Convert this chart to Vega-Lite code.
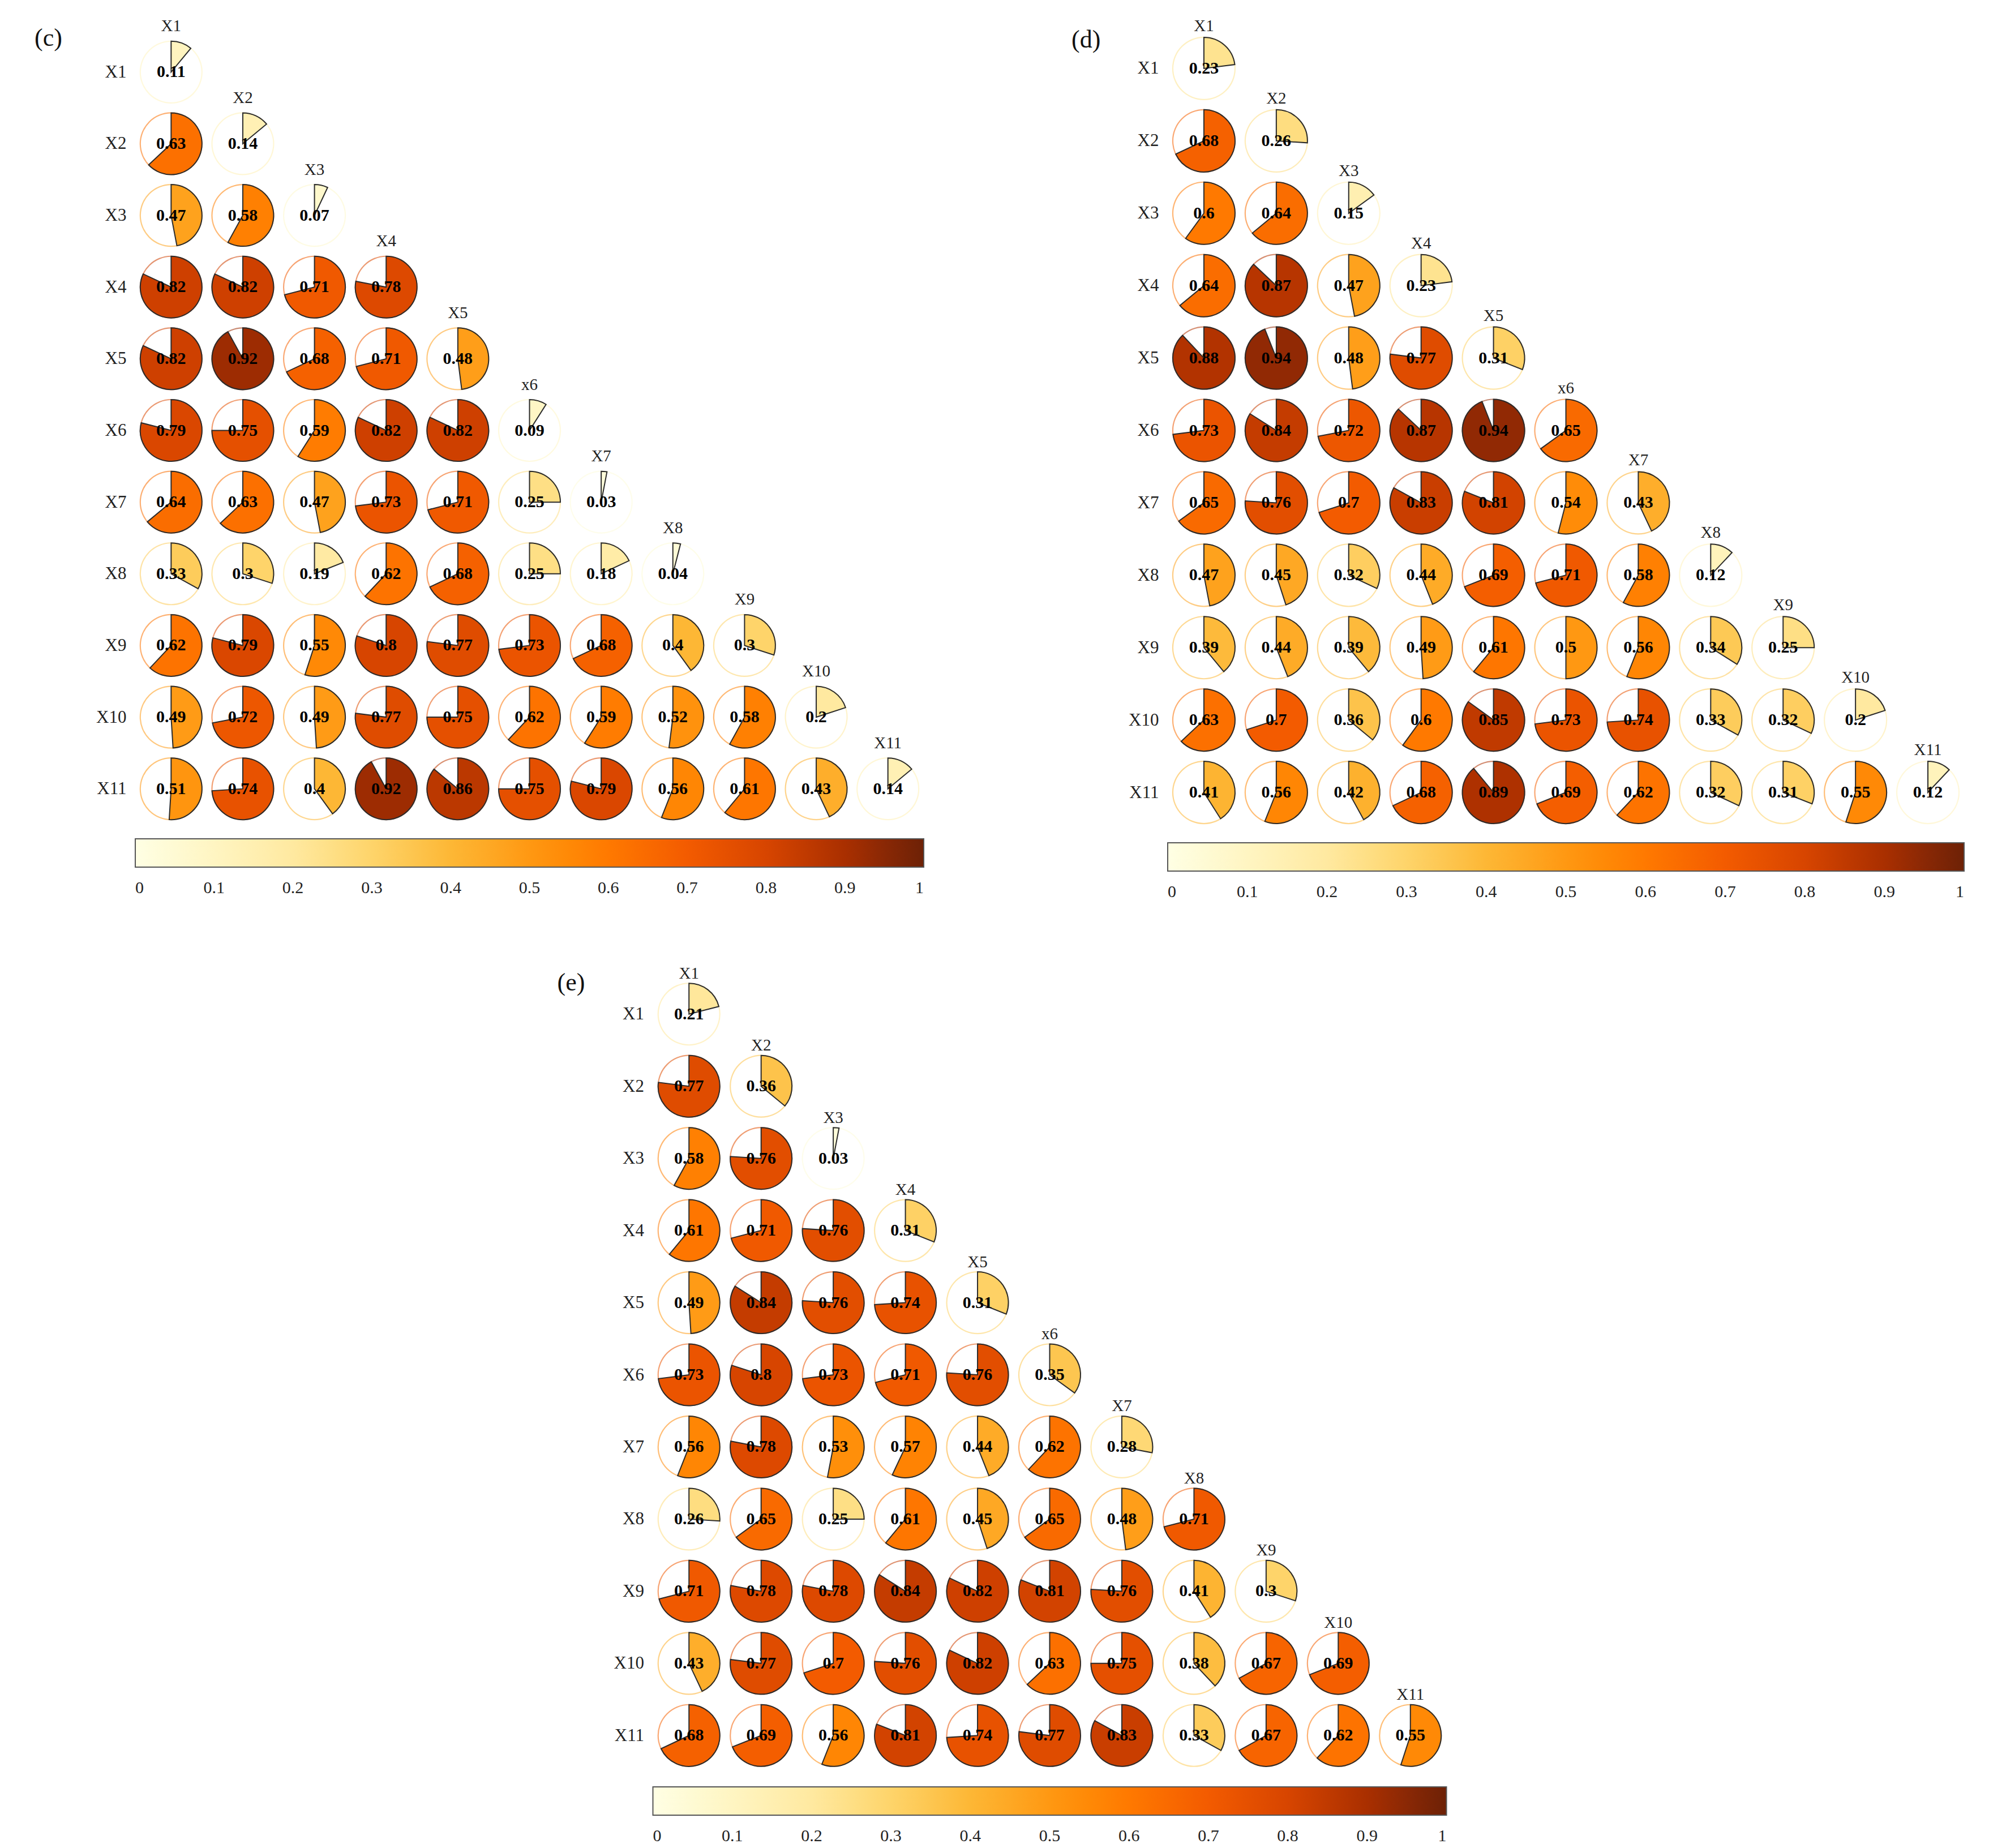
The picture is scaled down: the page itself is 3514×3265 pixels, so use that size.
{
  "$schema": "https://vega.github.io/schema/vega-lite/v6.json",
  "background": "white",
  "padding": {"left": 61, "top": 31, "right": 10, "bottom": 10},
  "config": {
    "view": {"stroke": null},
    "font": "Liberation Serif",
    "axisY": {"domain": false, "ticks": false, "grid": false, "labelPadding": 16, "labelFont": "Liberation Serif", "labelFontSize": 31, "labelColor": "#222222"},
    "legend": {"gradientThickness": 50, "labelFont": "Liberation Serif", "labelFontSize": 30, "labelOffset": 22, "gradientLabelOffset": 22, "labelColor": "#222222", "gradientStrokeColor": "#555555", "gradientStrokeWidth": 2, "labelOverlap": false, "labelAlign": "center"},
    "title": {"font": "Liberation Serif", "fontSize": 44, "fontWeight": "normal", "anchor": "start", "frame": "group", "offset": 0, "baseline": "middle", "color": "#111111"}
  },
  "datasets": {
    "labels": [
      {"row": "X1", "col": "X1", "lab": "X1"}, {"row": "X2", "col": "X2", "lab": "X2"}, {"row": "X3", "col": "X3", "lab": "X3"},
      {"row": "X4", "col": "X4", "lab": "X4"}, {"row": "X5", "col": "X5", "lab": "X5"}, {"row": "X6", "col": "X6", "lab": "x6"},
      {"row": "X7", "col": "X7", "lab": "X7"}, {"row": "X8", "col": "X8", "lab": "X8"}, {"row": "X9", "col": "X9", "lab": "X9"},
      {"row": "X10", "col": "X10", "lab": "X10"}, {"row": "X11", "col": "X11", "lab": "X11"}
    ],
    "c": [
      {"row": "X1", "col": "X1", "v": 0.11},
      {"row": "X2", "col": "X1", "v": 0.63}, {"row": "X2", "col": "X2", "v": 0.14},
      {"row": "X3", "col": "X1", "v": 0.47}, {"row": "X3", "col": "X2", "v": 0.58}, {"row": "X3", "col": "X3", "v": 0.07},
      {"row": "X4", "col": "X1", "v": 0.82}, {"row": "X4", "col": "X2", "v": 0.82}, {"row": "X4", "col": "X3", "v": 0.71}, {"row": "X4", "col": "X4", "v": 0.78},
      {"row": "X5", "col": "X1", "v": 0.82}, {"row": "X5", "col": "X2", "v": 0.92}, {"row": "X5", "col": "X3", "v": 0.68}, {"row": "X5", "col": "X4", "v": 0.71}, {"row": "X5", "col": "X5", "v": 0.48},
      {"row": "X6", "col": "X1", "v": 0.79}, {"row": "X6", "col": "X2", "v": 0.75}, {"row": "X6", "col": "X3", "v": 0.59}, {"row": "X6", "col": "X4", "v": 0.82}, {"row": "X6", "col": "X5", "v": 0.82}, {"row": "X6", "col": "X6", "v": 0.09},
      {"row": "X7", "col": "X1", "v": 0.64}, {"row": "X7", "col": "X2", "v": 0.63}, {"row": "X7", "col": "X3", "v": 0.47}, {"row": "X7", "col": "X4", "v": 0.73}, {"row": "X7", "col": "X5", "v": 0.71}, {"row": "X7", "col": "X6", "v": 0.25}, {"row": "X7", "col": "X7", "v": 0.03},
      {"row": "X8", "col": "X1", "v": 0.33}, {"row": "X8", "col": "X2", "v": 0.3}, {"row": "X8", "col": "X3", "v": 0.19}, {"row": "X8", "col": "X4", "v": 0.62}, {"row": "X8", "col": "X5", "v": 0.68}, {"row": "X8", "col": "X6", "v": 0.25}, {"row": "X8", "col": "X7", "v": 0.18}, {"row": "X8", "col": "X8", "v": 0.04},
      {"row": "X9", "col": "X1", "v": 0.62}, {"row": "X9", "col": "X2", "v": 0.79}, {"row": "X9", "col": "X3", "v": 0.55}, {"row": "X9", "col": "X4", "v": 0.8}, {"row": "X9", "col": "X5", "v": 0.77}, {"row": "X9", "col": "X6", "v": 0.73}, {"row": "X9", "col": "X7", "v": 0.68}, {"row": "X9", "col": "X8", "v": 0.4}, {"row": "X9", "col": "X9", "v": 0.3},
      {"row": "X10", "col": "X1", "v": 0.49}, {"row": "X10", "col": "X2", "v": 0.72}, {"row": "X10", "col": "X3", "v": 0.49}, {"row": "X10", "col": "X4", "v": 0.77}, {"row": "X10", "col": "X5", "v": 0.75}, {"row": "X10", "col": "X6", "v": 0.62}, {"row": "X10", "col": "X7", "v": 0.59}, {"row": "X10", "col": "X8", "v": 0.52}, {"row": "X10", "col": "X9", "v": 0.58}, {"row": "X10", "col": "X10", "v": 0.2},
      {"row": "X11", "col": "X1", "v": 0.51}, {"row": "X11", "col": "X2", "v": 0.74}, {"row": "X11", "col": "X3", "v": 0.4}, {"row": "X11", "col": "X4", "v": 0.92}, {"row": "X11", "col": "X5", "v": 0.86}, {"row": "X11", "col": "X6", "v": 0.75}, {"row": "X11", "col": "X7", "v": 0.79}, {"row": "X11", "col": "X8", "v": 0.56}, {"row": "X11", "col": "X9", "v": 0.61}, {"row": "X11", "col": "X10", "v": 0.43}, {"row": "X11", "col": "X11", "v": 0.14}
    ],
    "d": [
      {"row": "X1", "col": "X1", "v": 0.23},
      {"row": "X2", "col": "X1", "v": 0.68}, {"row": "X2", "col": "X2", "v": 0.26},
      {"row": "X3", "col": "X1", "v": 0.6}, {"row": "X3", "col": "X2", "v": 0.64}, {"row": "X3", "col": "X3", "v": 0.15},
      {"row": "X4", "col": "X1", "v": 0.64}, {"row": "X4", "col": "X2", "v": 0.87}, {"row": "X4", "col": "X3", "v": 0.47}, {"row": "X4", "col": "X4", "v": 0.23},
      {"row": "X5", "col": "X1", "v": 0.88}, {"row": "X5", "col": "X2", "v": 0.94}, {"row": "X5", "col": "X3", "v": 0.48}, {"row": "X5", "col": "X4", "v": 0.77}, {"row": "X5", "col": "X5", "v": 0.31},
      {"row": "X6", "col": "X1", "v": 0.73}, {"row": "X6", "col": "X2", "v": 0.84}, {"row": "X6", "col": "X3", "v": 0.72}, {"row": "X6", "col": "X4", "v": 0.87}, {"row": "X6", "col": "X5", "v": 0.94}, {"row": "X6", "col": "X6", "v": 0.65},
      {"row": "X7", "col": "X1", "v": 0.65}, {"row": "X7", "col": "X2", "v": 0.76}, {"row": "X7", "col": "X3", "v": 0.7}, {"row": "X7", "col": "X4", "v": 0.83}, {"row": "X7", "col": "X5", "v": 0.81}, {"row": "X7", "col": "X6", "v": 0.54}, {"row": "X7", "col": "X7", "v": 0.43},
      {"row": "X8", "col": "X1", "v": 0.47}, {"row": "X8", "col": "X2", "v": 0.45}, {"row": "X8", "col": "X3", "v": 0.32}, {"row": "X8", "col": "X4", "v": 0.44}, {"row": "X8", "col": "X5", "v": 0.69}, {"row": "X8", "col": "X6", "v": 0.71}, {"row": "X8", "col": "X7", "v": 0.58}, {"row": "X8", "col": "X8", "v": 0.12},
      {"row": "X9", "col": "X1", "v": 0.39}, {"row": "X9", "col": "X2", "v": 0.44}, {"row": "X9", "col": "X3", "v": 0.39}, {"row": "X9", "col": "X4", "v": 0.49}, {"row": "X9", "col": "X5", "v": 0.61}, {"row": "X9", "col": "X6", "v": 0.5}, {"row": "X9", "col": "X7", "v": 0.56}, {"row": "X9", "col": "X8", "v": 0.34}, {"row": "X9", "col": "X9", "v": 0.25},
      {"row": "X10", "col": "X1", "v": 0.63}, {"row": "X10", "col": "X2", "v": 0.7}, {"row": "X10", "col": "X3", "v": 0.36}, {"row": "X10", "col": "X4", "v": 0.6}, {"row": "X10", "col": "X5", "v": 0.85}, {"row": "X10", "col": "X6", "v": 0.73}, {"row": "X10", "col": "X7", "v": 0.74}, {"row": "X10", "col": "X8", "v": 0.33}, {"row": "X10", "col": "X9", "v": 0.32}, {"row": "X10", "col": "X10", "v": 0.2},
      {"row": "X11", "col": "X1", "v": 0.41}, {"row": "X11", "col": "X2", "v": 0.56}, {"row": "X11", "col": "X3", "v": 0.42}, {"row": "X11", "col": "X4", "v": 0.68}, {"row": "X11", "col": "X5", "v": 0.89}, {"row": "X11", "col": "X6", "v": 0.69}, {"row": "X11", "col": "X7", "v": 0.62}, {"row": "X11", "col": "X8", "v": 0.32}, {"row": "X11", "col": "X9", "v": 0.31}, {"row": "X11", "col": "X10", "v": 0.55}, {"row": "X11", "col": "X11", "v": 0.12}
    ],
    "e": [
      {"row": "X1", "col": "X1", "v": 0.21},
      {"row": "X2", "col": "X1", "v": 0.77}, {"row": "X2", "col": "X2", "v": 0.36},
      {"row": "X3", "col": "X1", "v": 0.58}, {"row": "X3", "col": "X2", "v": 0.76}, {"row": "X3", "col": "X3", "v": 0.03},
      {"row": "X4", "col": "X1", "v": 0.61}, {"row": "X4", "col": "X2", "v": 0.71}, {"row": "X4", "col": "X3", "v": 0.76}, {"row": "X4", "col": "X4", "v": 0.31},
      {"row": "X5", "col": "X1", "v": 0.49}, {"row": "X5", "col": "X2", "v": 0.84}, {"row": "X5", "col": "X3", "v": 0.76}, {"row": "X5", "col": "X4", "v": 0.74}, {"row": "X5", "col": "X5", "v": 0.31},
      {"row": "X6", "col": "X1", "v": 0.73}, {"row": "X6", "col": "X2", "v": 0.8}, {"row": "X6", "col": "X3", "v": 0.73}, {"row": "X6", "col": "X4", "v": 0.71}, {"row": "X6", "col": "X5", "v": 0.76}, {"row": "X6", "col": "X6", "v": 0.35},
      {"row": "X7", "col": "X1", "v": 0.56}, {"row": "X7", "col": "X2", "v": 0.78}, {"row": "X7", "col": "X3", "v": 0.53}, {"row": "X7", "col": "X4", "v": 0.57}, {"row": "X7", "col": "X5", "v": 0.44}, {"row": "X7", "col": "X6", "v": 0.62}, {"row": "X7", "col": "X7", "v": 0.28},
      {"row": "X8", "col": "X1", "v": 0.26}, {"row": "X8", "col": "X2", "v": 0.65}, {"row": "X8", "col": "X3", "v": 0.25}, {"row": "X8", "col": "X4", "v": 0.61}, {"row": "X8", "col": "X5", "v": 0.45}, {"row": "X8", "col": "X6", "v": 0.65}, {"row": "X8", "col": "X7", "v": 0.48}, {"row": "X8", "col": "X8", "v": 0.71},
      {"row": "X9", "col": "X1", "v": 0.71}, {"row": "X9", "col": "X2", "v": 0.78}, {"row": "X9", "col": "X3", "v": 0.78}, {"row": "X9", "col": "X4", "v": 0.84}, {"row": "X9", "col": "X5", "v": 0.82}, {"row": "X9", "col": "X6", "v": 0.81}, {"row": "X9", "col": "X7", "v": 0.76}, {"row": "X9", "col": "X8", "v": 0.41}, {"row": "X9", "col": "X9", "v": 0.3},
      {"row": "X10", "col": "X1", "v": 0.43}, {"row": "X10", "col": "X2", "v": 0.77}, {"row": "X10", "col": "X3", "v": 0.7}, {"row": "X10", "col": "X4", "v": 0.76}, {"row": "X10", "col": "X5", "v": 0.82}, {"row": "X10", "col": "X6", "v": 0.63}, {"row": "X10", "col": "X7", "v": 0.75}, {"row": "X10", "col": "X8", "v": 0.38}, {"row": "X10", "col": "X9", "v": 0.67}, {"row": "X10", "col": "X10", "v": 0.69},
      {"row": "X11", "col": "X1", "v": 0.68}, {"row": "X11", "col": "X2", "v": 0.69}, {"row": "X11", "col": "X3", "v": 0.56}, {"row": "X11", "col": "X4", "v": 0.81}, {"row": "X11", "col": "X5", "v": 0.74}, {"row": "X11", "col": "X6", "v": 0.77}, {"row": "X11", "col": "X7", "v": 0.83}, {"row": "X11", "col": "X8", "v": 0.33}, {"row": "X11", "col": "X9", "v": 0.67}, {"row": "X11", "col": "X10", "v": 0.62}, {"row": "X11", "col": "X11", "v": 0.55}
    ]
  },
  "resolve": {"scale": {"color": "independent", "x": "independent", "y": "independent"}, "legend": {"color": "independent"}},
  "center": true,
  "spacing": 114,
  "vconcat": [
    {
      "bounds": "flush",
      "center": true,
      "spacing": 431,
      "resolve": {"scale": {"color": "independent", "x": "independent", "y": "independent"}, "legend": {"color": "independent"}},
      "hconcat": [
        {
          "width": 1393, "height": 1393,
          "title": {"text": "(c)", "dx": -178, "dy": 62},
          "encoding": {
            "x": {"field": "col", "type": "ordinal", "scale": {"type": "point", "padding": 0.5, "domain": ["X1","X2","X3","X4","X5","X6","X7","X8","X9","X10","X11"]}, "axis": null},
            "y": {"field": "row", "type": "ordinal", "scale": {"type": "point", "padding": 0.5, "domain": ["X1","X2","X3","X4","X5","X6","X7","X8","X9","X10","X11"]}, "axis": {"title": null}},
            "color": {"field": "v", "type": "quantitative", "scale": {"domain": [0,0.1,0.2,0.3,0.4,0.5,0.6,0.7,0.8,0.9,1], "range": ["#ffffe4","#fff5c2","#ffe9a0","#fed46a","#fdb735","#ff9812","#ff7900","#f35b00","#d74500","#a92f00","#6d2106"]}, "legend": {"type": "gradient", "orient": "none", "legendX": 0, "legendY": 1418, "direction": "horizontal", "gradientLength": 1393, "labelOffset": 22, "title": null, "values": [0,0.1,0.2,0.3,0.4,0.5,0.6,0.7,0.8,0.9,1], "format": "~g", "encoding": {"gradient": {"opacity": {"value": 1}}}}}
          },
          "layer": [
            {"data": {"name": "c"}, "mark": {"type": "arc", "radius": 55.6, "radius2": 53.4, "theta": 0, "theta2": 6.2832, "opacity": 0.55}},
            {"data": {"name": "c"}, "mark": {"type": "arc", "radius": 54.5, "stroke": "#2b2b2b", "strokeWidth": 2},
             "encoding": {
               "theta": {"field": "v", "type": "quantitative", "scale": {"domain": [0, 1]}, "stack": null},
               "theta2": {"datum": 0}}},
            {"data": {"name": "c"}, "mark": {"type": "text", "font": "Liberation Serif", "fontSize": 30, "fontWeight": "bold", "baseline": "middle"},
             "encoding": {"text": {"field": "v", "type": "quantitative", "format": "~g"}, "color": {"value": "#000000"}}},
            {"data": {"name": "labels"}, "mark": {"type": "text", "font": "Liberation Serif", "fontSize": 29, "baseline": "middle", "yOffset": -81},
             "encoding": {"text": {"field": "lab"}, "color": {"value": "#222222"}}}
          ]
        },
        {
          "width": 1407, "height": 1407,
          "title": {"text": "(d)", "dx": -170, "dy": 65},
          "encoding": {
            "x": {"field": "col", "type": "ordinal", "scale": {"type": "point", "padding": 0.5, "domain": ["X1","X2","X3","X4","X5","X6","X7","X8","X9","X10","X11"]}, "axis": null},
            "y": {"field": "row", "type": "ordinal", "scale": {"type": "point", "padding": 0.5, "domain": ["X1","X2","X3","X4","X5","X6","X7","X8","X9","X10","X11"]}, "axis": {"title": null}},
            "color": {"field": "v", "type": "quantitative", "scale": {"domain": [0,0.1,0.2,0.3,0.4,0.5,0.6,0.7,0.8,0.9,1], "range": ["#ffffe4","#fff5c2","#ffe9a0","#fed46a","#fdb735","#ff9812","#ff7900","#f35b00","#d74500","#a92f00","#6d2106"]}, "legend": {"type": "gradient", "orient": "none", "legendX": 0, "legendY": 1432, "direction": "horizontal", "gradientLength": 1407, "labelOffset": 22, "title": null, "values": [0,0.1,0.2,0.3,0.4,0.5,0.6,0.7,0.8,0.9,1], "format": "~g", "encoding": {"gradient": {"opacity": {"value": 1}}}}}
          },
          "layer": [
            {"data": {"name": "d"}, "mark": {"type": "arc", "radius": 56.1, "radius2": 53.9, "theta": 0, "theta2": 6.2832, "opacity": 0.55}},
            {"data": {"name": "d"}, "mark": {"type": "arc", "radius": 55, "stroke": "#2b2b2b", "strokeWidth": 2},
             "encoding": {
               "theta": {"field": "v", "type": "quantitative", "scale": {"domain": [0, 1]}, "stack": null},
               "theta2": {"datum": 0}}},
            {"data": {"name": "d"}, "mark": {"type": "text", "font": "Liberation Serif", "fontSize": 30, "fontWeight": "bold", "baseline": "middle"},
             "encoding": {"text": {"field": "v", "type": "quantitative", "format": "~g"}, "color": {"value": "#000000"}}},
            {"data": {"name": "labels"}, "mark": {"type": "text", "font": "Liberation Serif", "fontSize": 29, "baseline": "middle", "yOffset": -75},
             "encoding": {"text": {"field": "lab"}, "color": {"value": "#222222"}}}
          ]
        }
      ]
    },
    {
      "width": 1402, "height": 1402,
      "title": {"text": "(e)", "dx": -169, "dy": 57},
      "encoding": {
        "x": {"field": "col", "type": "ordinal", "scale": {"type": "point", "padding": 0.5, "domain": ["X1","X2","X3","X4","X5","X6","X7","X8","X9","X10","X11"]}, "axis": null},
        "y": {"field": "row", "type": "ordinal", "scale": {"type": "point", "padding": 0.5, "domain": ["X1","X2","X3","X4","X5","X6","X7","X8","X9","X10","X11"]}, "axis": {"title": null}},
        "color": {"field": "v", "type": "quantitative", "scale": {"domain": [0,0.1,0.2,0.3,0.4,0.5,0.6,0.7,0.8,0.9,1], "range": ["#ffffe4","#fff5c2","#ffe9a0","#fed46a","#fdb735","#ff9812","#ff7900","#f35b00","#d74500","#a92f00","#6d2106"]}, "legend": {"type": "gradient", "orient": "none", "legendX": 0, "legendY": 1429, "direction": "horizontal", "gradientLength": 1402, "labelOffset": 22, "title": null, "values": [0,0.1,0.2,0.3,0.4,0.5,0.6,0.7,0.8,0.9,1], "format": "~g", "encoding": {"gradient": {"opacity": {"value": 1}}}}}
      },
      "layer": [
        {"data": {"name": "e"}, "mark": {"type": "arc", "radius": 55.6, "radius2": 53.4, "theta": 0, "theta2": 6.2832, "opacity": 0.55}},
        {"data": {"name": "e"}, "mark": {"type": "arc", "radius": 54.5, "stroke": "#2b2b2b", "strokeWidth": 2},
         "encoding": {
           "theta": {"field": "v", "type": "quantitative", "scale": {"domain": [0, 1]}, "stack": null},
           "theta2": {"datum": 0}}},
        {"data": {"name": "e"}, "mark": {"type": "text", "font": "Liberation Serif", "fontSize": 30, "fontWeight": "bold", "baseline": "middle"},
         "encoding": {"text": {"field": "v", "type": "quantitative", "format": "~g"}, "color": {"value": "#000000"}}},
        {"data": {"name": "labels"}, "mark": {"type": "text", "font": "Liberation Serif", "fontSize": 29, "baseline": "middle", "yOffset": -72},
         "encoding": {"text": {"field": "lab"}, "color": {"value": "#222222"}}}
      ]
    }
  ]
}
